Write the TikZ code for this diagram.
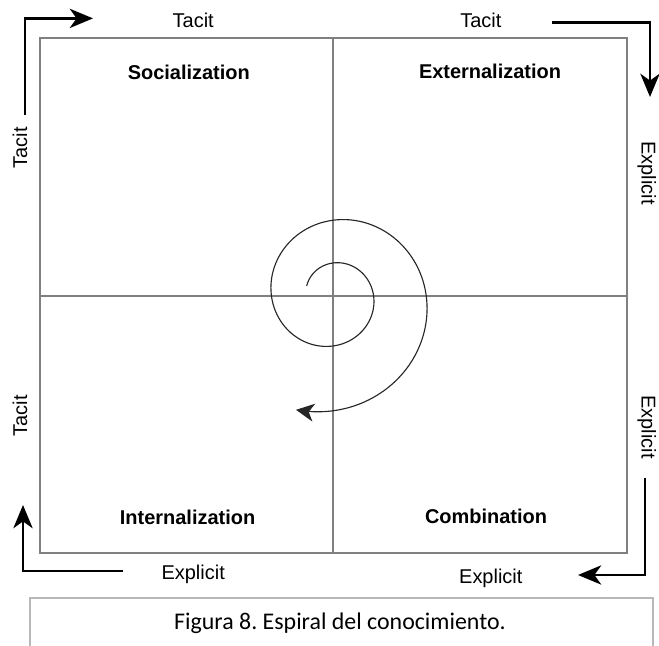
\documentclass[tikz,border=0pt]{standalone}
\usepackage{fontspec}
\setmainfont{Liberation Sans}
\newfontfamily\capfont{Carlito}
\usetikzlibrary{arrows.meta}

\tikzset{
  quadlabel/.style={font=\fontsize{14.2}{17}\selectfont\bfseries},
  sidelabel/.style={font=\fontsize{14.2}{17}\selectfont},
  gridline/.style={draw=black!50, line width=0.75pt},
  turnarrow/.style={line width=2pt, -{Stealth[length=0.58cm, width=0.48cm, inset=0.17cm]}},
  spiralline/.style={line width=0.8pt, black!85, -{Stealth[length=0.45cm, width=0.45cm, inset=0.13cm]}},
}

\begin{document}
\begin{tikzpicture}

    \useasboundingbox (0,0) rectangle (16.475,16.15);

    % 外框和十字线
    \draw[gridline] (1,2.325) rectangle (15.675,15.2);
    \draw[gridline] (8.325,2.325) -- (8.325,15.2); % 竖线
    \draw[gridline] (1,8.75) -- (15.675,8.75); % 横线

    % 四个象限的名称
    \node[quadlabel] (soc) at (4.72,14.35) {Socialization};
    \node[quadlabel] (ext) at (12.25,14.375) {Externalization};
    \node[quadlabel] (intern) at (4.69,3.225) {Internalization};
    \node[quadlabel] (comb) at (12.15,3.25) {Combination};

    % 外侧的标签
    \node[sidelabel] (tacitA) at (4.83,15.65) {Tacit};
    \node[sidelabel] (tacitB) at (12.02,15.65) {Tacit};
    \node[sidelabel, rotate=-90] (explA) at (16.17,11.825) {Explicit};
    \node[sidelabel, rotate=-90] (explB) at (16.17,5.475) {Explicit};
    \node[sidelabel] (explC) at (12.27,1.7) {Explicit};
    \node[sidelabel] (explD) at (4.83,1.8) {Explicit};
    \node[sidelabel, rotate=90] (tacitC) at (0.5,5.75) {Tacit};
    \node[sidelabel, rotate=90] (tacitD) at (0.5,12.45) {Tacit};

    % 四角的折线箭头
    \coordinate (tlS) at (0.625,13.275);
    \coordinate (tlE) at (2.325,15.69);
    \coordinate (trS) at (13.8,15.58);
    \coordinate (trE) at (16.25,13.725);
    \coordinate (brS) at (16.125,4.2);
    \coordinate (brE) at (14.45,1.775);
    \coordinate (blS) at (3.075,1.875);
    \coordinate (blE) at (0.575,3.525);
    \draw[turnarrow] (tlS) |- (tlE); % 左上
    \draw[turnarrow] (trS) -| (trE); % 右上
    \draw[turnarrow] (brS) |- (brE); % 右下
    \draw[turnarrow] (blS) -| (blE); % 左下

    % 中间的螺旋线
    \draw[spiralline] plot[domain=159:-468, samples=220, variable=\t]
        ({8.325+0.825*1.231^((90-\t)/90)*cos(\t)}, {8.75+0.825*1.231^((90-\t)/90)*sin(\t)});

    % 图题
    \draw[black!28, line width=1pt] (0.75,0) -- (0.75,1.2) -- (16.325,1.2) -- (16.325,0);
    \node[font=\capfont\fontsize{17}{20}\selectfont] (cap) at (8.5,0.58) {Figura 8.\ Espiral del conocimiento.};

\end{tikzpicture}
\end{document}
